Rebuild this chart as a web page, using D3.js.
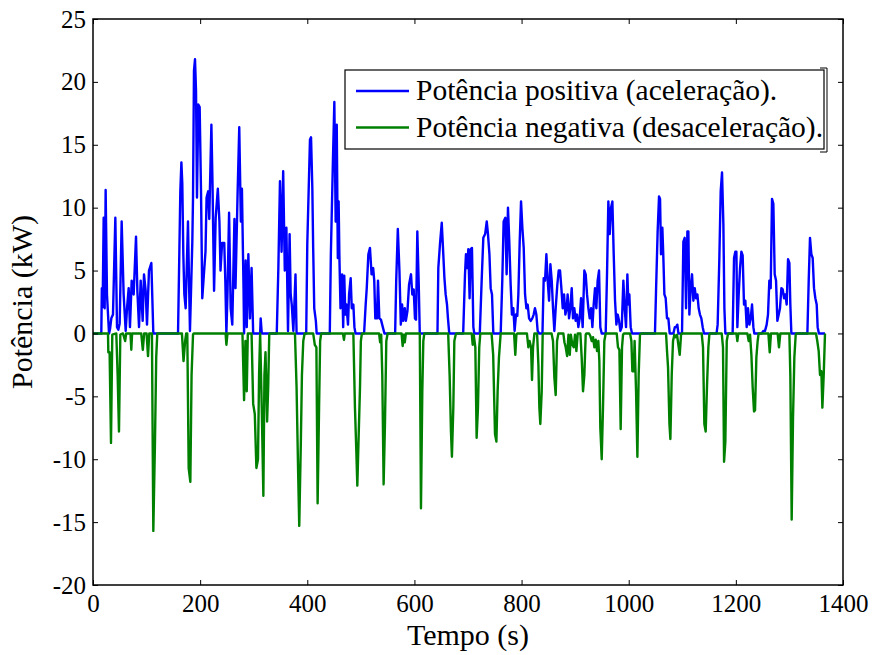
<!DOCTYPE html>
<html><head><meta charset="utf-8">
<script src="https://cdn.jsdelivr.net/npm/d3@7"></script>
<style>
body{margin:0;background:#fff;}
svg text{font-family:"Liberation Serif","Times New Roman",serif !important;}
</style></head>
<body><svg id="c" width="877" height="655"></svg>
<script>
const xTicks=[0,200,400,600,800,1000,1200,1400];
const yTicks=[-20,-15,-10,-5,0,5,10,15,20,25];
const seriesNames=["Potência positiva (aceleração).","Potência negativa (desaceleração)."];
const seriesColors=["#0000ff","#008000"];
const xLabel="Tempo (s)", yLabel="Potência (kW)";
// [time (s), power (kW)]
const posSeries=[[0,0],[15.5,0],[16.5,3.6],[18,2.1],[19.9,9.2],[21.8,2.0],[23.6,11.4],[26.1,3.1],[29.9,0],[32,0.4],[34.2,1.2],[37.3,1.5],[41.7,9.2],[44.8,0.5],[47.3,0.3],[49.8,0.8],[53.5,8.9],[57.2,3.1],[61,0.2],[63.5,2.0],[66.6,3.6],[69,0.5],[72.2,4.2],[75.9,3.1],[80.3,7.7],[82.8,3.4],[85.9,0.5],[89,4.2],[92.7,1.0],[95.2,4.7],[98.3,3.4],[100.8,0.7],[104.5,5.0],[108.9,5.6],[112.6,0],
[158.7,0],[160.5,4.7],[163,11.3],[165,13.6],[166.7,11.9],[168.6,6.3],[170.5,3.1],[173,2.0],[177.3,8.9],[179,4.7],[181,0.2],[183.5,4.2],[185.4,7.3],[186.7,10.8],[188.5,20.9],[190.4,21.8],[192.3,19.3],[194.1,10.8],[196.6,18.2],[199.1,18.0],[201.6,11.4],[204,2.8],[207,4.7],[210,6.5],[212,10.8],[215,11.3],[217,9.1],[221,16.6],[223,12.1],[226,3.4],[229,9.2],[233,11.5],[236,8.9],[238,5.0],[241,7.2],[245,7.2],[247,4.2],[249,0],[251,3.1],[254,9.6],[257,2.0],[260,0.7],[264,9.1],[266,3.6],[270,11.3],[273,16.4],[276,8.9],[278,11.5],[281,3.6],[282,0],[285,5.8],[287,0.5],[290,6.3],[293,1.2],[296,5.2],[299,0],[312,0],[313,1.2],[315,0],
[343,0],[346,5.2],[349,12.1],[352,6.5],[355,12.9],[358,5.0],[361,8.4],[364,0.2],[367,7.9],[369,3.1],[371,2.3],[374,0.2],[378,4.7],[380,0],
[398,0],[400,7.1],[405,15.4],[407,15.6],[409.4,11.6],[411,6.8],[413,2.0],[416,1.0],[417.5,0],
[442,0],[444,6.3],[448,14.0],[450.5,18.4],[453,8.9],[455,16.6],[457,6.0],[458.5,10.5],[460,6.0],[462,2.0],[465,4.7],[467,0.5],[469,4.6],[471,1.5],[473,2.3],[476,0.7],[478,3.1],[481,4.4],[483,2.0],[486,2.3],[488,0.5],[490,0],
[506,0],[509,2.3],[511,3.6],[514,6.3],[517,6.8],[520,4.7],[523,5.2],[525,4.2],[527,1.2],[530,1.2],[532,4.2],[534.5,1.2],[537.5,1.1],[541,0.5],[544,0],
[564,0],[566,4.2],[569,8.3],[572,5.0],[574.6,0.7],[577,2.3],[579,1.0],[582,2.0],[584,1.0],[587,1.8],[590,3.9],[593.6,4.7],[596,3.1],[598.6,3.5],[601,1.2],[603,1.1],[605.4,8.1],[608,4.0],[610,0],
[643,0],[644.6,5.2],[647.7,7.1],[651,8.8],[653.3,6.8],[656,4.4],[658.3,3.1],[660.8,2.3],[662.6,1.2],[665,0],
[691,0],[694.4,4.7],[696.2,6.3],[698.7,5.2],[700.6,6.7],[703,2.8],[705,6.7],[707.4,6.8],[710,0.5],[711.8,0],
[722,0],[725.5,4.2],[728.6,7.6],[732,7.9],[735,8.9],[737.3,7.9],[740,6.3],[742.3,3.6],[744.8,3.1],[747.3,0],
[761,0],[764,4.2],[766.5,8.9],[769.7,9.2],[772.1,4.7],[774.6,10.0],[777,7.4],[779.6,3.9],[782,1.5],[784.6,2.0],[787,0.2],[789.6,1.5],[792,1.4],[794,3.1],[796.5,7.3],[799,10.5],[801.5,8.4],[804,6.8],[806.5,3.1],[809,2.0],[811.4,2.3],[814,1.2],[817,1.0],[820,1.2],[822.6,1.5],[825,2.0],[827.6,1.5],[830,0.2],[832.6,0],
[839,0],[841.3,4.4],[843.8,4.2],[846.3,6.3],[848.8,4.2],[851.3,2.6],[853.8,5.5],[856.3,4.2],[858.7,2.0],[861.2,0.2],[863.7,2.0],[866.8,3.9],[869.3,5.0],[871.8,5.0],[874.3,3.6],[876.8,2.0],[879.3,3.1],[881.8,1.5],[884.2,2.0],[886,3.1],[888.6,1.2],[891,2.0],[893.6,3.6],[896,1.2],[898.5,2.0],[901,1.0],[903.5,1.5],[906,0.5],[908.5,1.2],[911,2.8],[914,0.5],[917.2,5.0],[919.7,4.7],[922.2,3.1],[924.7,2.0],[927.2,1.2],[929.7,2.0],[932.2,0.5],[934.6,2.3],[937.1,3.6],[939.6,2.0],[942,4.2],[944.6,5.0],[947,0.5],[949.6,0],
[957,0],[959.5,4.7],[962,10.5],[964.5,7.9],[967,10.0],[969.5,10.5],[972,6.3],[974.5,2.6],[977,0.7],[979.4,1.5],[982,1.0],[984.4,0.2],[987,0.5],[990,4.2],[992.5,2.0],[995,0.5],[997.5,4.7],[999.4,2.3],[1001.2,3.1],[1003.7,0.5],[1006.2,0],
[1049,0],[1051,3.4],[1054,8.1],[1056.6,10.9],[1058.5,10.7],[1060.3,6.3],[1062.8,8.4],[1064.7,6.0],[1066.6,3.1],[1069,2.8],[1071.5,1.2],[1074,1.2],[1076.5,0],
[1083.4,0],[1086,0.5],[1088.3,0.5],[1090.8,0.7],[1092.7,0],
[1099.5,0],[1102,7.3],[1104.5,7.6],[1107,2.0],[1109.5,8.1],[1111.4,8.1],[1113.2,1.5],[1115.7,3.6],[1118.2,4.7],[1120.7,2.6],[1123.2,3.6],[1125.7,2.8],[1128.2,3.1],[1130.6,2.0],[1133,1.5],[1135.6,1.2],[1138.1,0.5],[1140.6,0],
[1164,0],[1166,0.7],[1169.2,6.0],[1171.7,11.3],[1174.2,12.8],[1176.7,8.7],[1178.6,2.0],[1180.4,0],
[1194,0],[1196.6,6.0],[1199,6.5],[1201,6.5],[1202.8,0.5],[1205.3,3.1],[1207.8,5.2],[1210.3,6.5],[1212.7,6.2],[1215.2,2.3],[1217.7,2.6],[1220.2,0.5],[1222.7,2.0],[1225.2,0.7],[1227.7,1.2],[1230.2,2.3],[1232.7,0.5],[1234.5,0],
[1248.2,0],[1251.3,0.2],[1254.4,0.2],[1257.5,0.7],[1260,1.5],[1262.5,4.2],[1265,3.6],[1267.5,10.7],[1270,10.3],[1272.5,4.7],[1275,4.2],[1277.5,1.0],[1280,1.5],[1282.4,2.0],[1285,3.6],[1287.4,3.5],[1290,2.8],[1292.4,3.1],[1294.9,2.3],[1297.4,5.9],[1299.9,5.6],[1301.7,2.3],[1303.6,0],
[1333.5,0],[1336,4.2],[1338.4,7.6],[1340.9,6.3],[1343.4,6.0],[1345.9,3.6],[1348.4,2.8],[1350.9,2.3],[1352.7,0.5],[1355,0],[1366.4,0]];
const negSeries=[[0,0],[28,0],[28.6,-1.5],[31,-1.5],[33.6,-8.7],[36,-0.1],[43.5,0],[46,-3.3],[48.5,-7.8],[51,-0.1],[56,0],[60,-0.6],[62,0],[70,0],[71.5,-1.3],[73,0],[90,0],[93,-1.3],[95.5,0],[100,0],[102.7,-1.8],[105,0],[110,0],[112.6,-15.7],[115.7,-8.6],[118,-1.9],[120,0],
[166,0],[169,-2.2],[172,-0.6],[174,0],[176,0],[178.6,-10.7],[181.7,-11.8],[184,-3.3],[186.7,-0.1],[188,0],
[247.5,0],[249,-0.9],[251,0],
[279,0],[282,-5.3],[284.5,-0.6],[287,-4.6],[289,0],
[296,0],[299,-5.6],[302,-6.4],[305,-10.7],[308,-10.0],[310,-3.3],[312,0],[315,-5.9],[318,-12.9],[320,-3.3],[322,-1.5],[325,-7.0],[327,-4.3],[329,-0.1],[330,0],
[377,0],[380,-4.3],[383,-11.2],[385,-15.3],[388,-8.6],[390,-3.3],[392.5,-0.6],[395,0],
[411,0],[414,-0.9],[417,-1.1],[419.3,-13.5],[422,-5.9],[424,-0.6],[426,0],
[466.5,0],[468.5,-0.5],[470,0],
[486,0],[489,-5.9],[491.5,-9.3],[493.4,-12.1],[496,-8.0],[498.4,-4.3],[500,-0.6],[502,0],
[534,0],[536,-0.7],[538,-0.1],[540,-3.3],[542.5,-12.0],[545,-7.2],[547.5,-0.6],[550,0],
[576,0],[578,-1.0],[580,-0.1],[582,-0.7],[584,0],
[610,0],[612.2,-13.9],[614.7,-4.6],[616.6,-0.6],[618.5,0],
[663,0],[665.7,-3.3],[668.2,-7.8],[670,-9.8],[672.6,-5.9],[674.5,-0.6],[677,-0.1],[678,0],
[707,0],[708.7,-0.9],[710.6,-0.1],[713.7,-1.1],[716.1,-8.3],[718.6,-5.9],[721,-1.1],[723,0],
[744,0],[747,-1.7],[750.4,-8.0],[753,-8.6],[755.3,-4.6],[757.8,-1.9],[761,0],
[786,0],[788.3,-1.7],[790.3,-0.1],[792,0],
[810,0],[812.7,-1.1],[815,-0.6],[817.7,-1.1],[819.5,-3.7],[821.4,-1.1],[824,0],
[829,0],[831.4,-2.5],[833.2,-5.9],[835,-7.2],[837.6,-4.6],[839.4,-0.1],[841,0],
[856,0],[858.7,-0.6],[861.2,-3.5],[863.7,-4.9],[866.2,-0.6],[868.7,0],
[878,0],[880,-0.7],[882.4,-1.1],[885,-1.8],[887.5,-0.1],[890,-1.7],[892,-0.1],[894.8,-0.9],[897.3,-1.1],[899.8,-0.1],[902.3,-1.4],[904.8,0],
[909.8,0],[912.2,-1.9],[914.7,-4.6],[917.2,-3.3],[919.7,-0.1],[921,0],
[926,0],[928.4,-0.2],[930.9,-0.6],[933.4,-0.3],[935.9,-1.1],[938.4,-0.5],[940.9,-1.4],[943.3,-0.6],[945.2,-2.2],[947,-7.5],[949.6,-10.0],[952,-5.9],[954.5,-0.6],[957,0],
[977.6,0],[980,-1.1],[982.6,-1.3],[985,-7.6],[987.5,-1.1],[989.4,-0.1],[991,0],
[1002.5,0],[1005,-0.6],[1006.8,-3.0],[1009.3,-3.0],[1011,-0.6],[1013.7,-4.6],[1016.2,-9.8],[1018.6,-3.3],[1021,-0.1],[1023,0],
[1069.7,0],[1071.5,-1.4],[1073.4,-2.7],[1076,-7.2],[1077.8,-8.4],[1080.3,-3.3],[1082.7,-0.6],[1085.2,-0.1],[1087.7,-0.3],[1090.2,-0.1],[1092.7,-0.9],[1095.2,-1.7],[1097.7,-0.1],[1099,0],
[1136.2,0],[1138.7,-1.1],[1141.2,-7.2],[1143.7,-7.8],[1146.2,-4.1],[1148.7,-1.1],[1150.5,-0.1],[1152,0],
[1173.6,0],[1176,-1.1],[1178,-10.2],[1180.4,-8.6],[1183,-0.6],[1185,-0.1],[1186,0],
[1201,0],[1202.8,-0.6],[1204.5,0],
[1221.5,0],[1224,-0.6],[1226.5,-0.1],[1229,-1.7],[1231.4,-4.3],[1233.9,-6.2],[1235.8,-6.1],[1238.3,-1.9],[1240.7,-0.6],[1242.5,0],
[1260.7,0],[1263.2,-1.5],[1265.5,0],
[1278,0],[1280.5,-1.1],[1283,0],
[1299.9,0],[1301.7,-3.3],[1304.2,-14.8],[1306.7,-6.7],[1309.2,-1.9],[1311.7,-0.1],[1313,0],
[1349.6,0],[1352,-0.6],[1354.6,-1.4],[1357.1,-3.3],[1359.6,-3.0],[1361.5,-5.9],[1364,-3.3],[1366.4,0]];

const svg=d3.select("#c");
const L=93,R=843,T=19,B=585;
const x=d3.scaleLinear().domain([0,1400]).range([L,R]);
const y=d3.scaleLinear().domain([-20,25]).range([B,T]);
const line=d3.line().x(d=>x(d[0])).y(d=>y(d[1]));

svg.append("path").datum(posSeries).attr("d",line).attr("fill","none").attr("stroke",seriesColors[0]).attr("stroke-width",2.4).attr("stroke-linejoin","round");
svg.append("path").datum(negSeries).attr("d",line).attr("fill","none").attr("stroke",seriesColors[1]).attr("stroke-width",2.4).attr("stroke-linejoin","round");

const fmt=d=>String(d);
function styleAxis(g,labels){
  g.attr("font-family",null).attr("font-size",null);
  g.select(".domain").remove();
  g.selectAll(".tick line").attr("stroke","#000").attr("stroke-width",1);
  g.selectAll(".tick text").style("font-size","25px").style("font-family","'Liberation Serif', serif").attr("fill","#000");
  if(!labels) g.selectAll(".tick text").remove();
}
svg.append("g").attr("transform",`translate(0,${B})`).call(d3.axisBottom(x).tickValues(xTicks).tickFormat(fmt).tickSize(-5).tickPadding(9)).call(g=>styleAxis(g,true));
svg.append("g").attr("transform",`translate(0,${T})`).call(d3.axisTop(x).tickValues(xTicks).tickSize(-5)).call(g=>styleAxis(g,false));
svg.append("g").attr("transform",`translate(${L},0)`).call(d3.axisLeft(y).tickValues(yTicks).tickFormat(fmt).tickSize(-5).tickPadding(7)).call(g=>styleAxis(g,true));
svg.append("g").attr("transform",`translate(${R},0)`).call(d3.axisRight(y).tickValues(yTicks).tickSize(-5)).call(g=>styleAxis(g,false));
svg.append("rect").attr("x",L).attr("y",T).attr("width",R-L).attr("height",B-T).attr("fill","none").attr("stroke","#000").attr("stroke-width",1.5);

svg.append("text").attr("x",(L+R)/2).attr("y",645).attr("text-anchor","middle").style("font-size","30px").text(xLabel);
svg.append("text").attr("transform",`translate(32,${(T+B)/2}) rotate(-90)`).attr("text-anchor","middle").style("font-size","30px").text(yLabel);

// legend
const lg=svg.append("g");
lg.append("rect").attr("x",345).attr("y",70).attr("width",479).attr("height",79).attr("fill","#fff").attr("stroke","#000").attr("stroke-width",1.2);
lg.append("path").attr("d","M820,68 H827 V152 H820").attr("fill","none").attr("stroke","#000").attr("stroke-width",1);
seriesNames.forEach((n,i)=>{
  const yy=91+i*36.5;
  lg.append("line").attr("x1",356).attr("x2",409).attr("y1",yy).attr("y2",yy).attr("stroke",seriesColors[i]).attr("stroke-width",2.5);
  lg.append("text").attr("x",416).attr("y",yy+9).style("font-size","29.5px").text(n);
});
</script></body></html>
